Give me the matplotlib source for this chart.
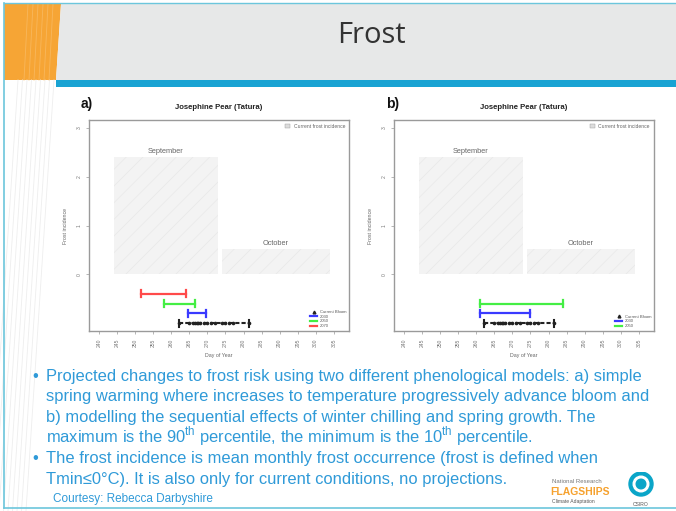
import matplotlib
matplotlib.use("Agg")
import matplotlib.pyplot as plt
from matplotlib.patches import Polygon, Rectangle, Circle
from matplotlib.lines import Line2D

plt.rcParams['font.family'] = ['Liberation Sans', 'DejaVu Sans']
plt.rcParams['mathtext.fontset'] = 'custom'
plt.rcParams['mathtext.rm'] = 'Liberation Sans'
plt.rcParams['hatch.linewidth'] = 0.4

# ---------------- data ----------------
months = ["September", "October"]
month_start = [244, 274]
month_end = [273, 304]
frost_incidence = [2.4, 0.52]

x_ticks = [240, 245, 250, 255, 260, 265, 270, 275, 280, 285, 290, 295, 300, 305]
y_ticks = [0, 1, 2, 3]

bloom_years = [262, 265, 266, 266.5, 267, 267.5, 268, 269, 270, 271, 272,
               274, 275, 276, 277, 281.5]
bloom_min, bloom_max = 262, 281.5

horizons_a = ["2030", "2050", "2070"]
lo_a = [264.5, 258.0, 251.5]
hi_a = [269.5, 266.5, 264.0]

horizons_b = ["2030", "2050"]
lo_b = [261.0, 261.0]
hi_b = [275.0, 284.0]

range_y = {"2030": -0.8, "2050": -0.6, "2070": -0.4}
range_col = {"2030": "#3a3aff", "2050": "#44ee44", "2070": "#ff4a4a"}

W, H = 676, 511
fig = plt.figure(figsize=(W / 100, H / 100), dpi=100)
fig.patch.set_facecolor("white")

def fx(x):
    return x / W

def fy(y):
    return 1 - y / H

def fpoly(pts, **kw):
    p = Polygon([(fx(a), fy(b)) for a, b in pts], closed=True,
                transform=fig.transFigure, **kw)
    fig.patches.append(p)

# ---------------- slide decoration ----------------
for i in range(9):
    xt = 18 + i * 4.5
    fig.add_artist(Line2D([fx(xt), fx(xt - 28)], [fy(80), fy(511)],
                          transform=fig.transFigure, color="#eeeeee", lw=0.6))
fpoly([(4, 4), (61, 4), (56, 80), (4, 80)], facecolor="#f6a535", edgecolor="none")
for i in range(6):
    xt = 28 + i * 5
    fig.add_artist(Line2D([fx(xt), fx(xt - 4)], [fy(4), fy(80)],
                          transform=fig.transFigure, color="#f8b75c", lw=0.6))
fpoly([(61, 4), (676, 4), (676, 80), (56, 80)], facecolor="#e7e8e8", edgecolor="none")
fpoly([(56, 80), (676, 80), (676, 87), (56, 87)], facecolor="#19a3d3", edgecolor="none")
fig.add_artist(Line2D([fx(4), fx(4)], [fy(3), fy(508)], transform=fig.transFigure,
                      color="#6cc6dc", lw=1.2))
fig.add_artist(Line2D([fx(4), fx(676)], [fy(3), fy(3)], transform=fig.transFigure,
                      color="#6cc6dc", lw=1.0))
fig.add_artist(Line2D([fx(4), fx(676)], [fy(508), fy(508)], transform=fig.transFigure,
                      color="#6cc6dc", lw=1.2))

fig.text(fx(371), fy(35), "Frost", fontsize=21, color="#333333",
         ha="center", va="center", family=["Open Sans", "DejaVu Sans"])

# ---------------- charts ----------------
def make_panel(left, label, horizons, lo, hi):
    ax = fig.add_axes([fx(left), fy(331), fx(260), (331 - 120) / H])
    ax.set_xlim(237.2, 309.2)
    ax.set_ylim(-1.16, 3.16)
    for s, e, v, m in zip(month_start, month_end, frost_incidence, months):
        ax.bar(s, v, width=e - s, align="edge", facecolor="#f3f3f3",
               edgecolor="#e6e6e6", linewidth=0, hatch="//")
        ax.text((s + e) / 2, v + 0.04, m, ha="center", va="bottom",
                fontsize=5.3, color="#666666")
    # current bloom
    ax.plot([bloom_min, bloom_max], [-1, -1], color="#222222", lw=1.5,
            ls=(0, (2, 1)))
    ax.plot([bloom_min, bloom_min], [-1.07, -0.93], color="#222222", lw=1.5)
    ax.plot([bloom_max, bloom_max], [-1.07, -0.93], color="#222222", lw=1.5)
    ax.plot(bloom_years, [-1] * len(bloom_years), "o", ms=1.6, color="#222222")
    handles = [Line2D([], [], marker="^", ms=2, color="#222222", ls="none")]
    labels = ["Current Bloom"]
    for h, l0, h0 in zip(horizons, lo, hi):
        yv = range_y[h]
        c = range_col[h]
        ax.plot([l0, h0], [yv, yv], color=c, lw=1.6)
        ax.plot([l0, l0], [yv - 0.07, yv + 0.07], color=c, lw=1.6)
        ax.plot([h0, h0], [yv - 0.07, yv + 0.07], color=c, lw=1.6)
        handles.append(Line2D([], [], color=c, lw=1.6))
        labels.append(h)
    leg = ax.legend(handles, labels, loc="lower right", frameon=False,
                    fontsize=3, handlelength=1.6, labelspacing=0.15,
                    handletextpad=0.6, borderaxespad=0.3, labelcolor="#555555")
    ax.add_artist(leg)
    ax.legend([Rectangle((0, 0), 1, 1, facecolor="#dddddd", edgecolor="#999999",
                         lw=0.3)],
              ["Current frost incidence"], loc="upper right", frameon=False,
              fontsize=3.6, handlelength=1.0, handleheight=0.8,
              borderaxespad=0.4, labelcolor="#666666")
    ax.set_xticks(x_ticks)
    ax.set_xticklabels([str(t) for t in x_ticks], rotation=90, fontsize=3.6,
                       color="#777777")
    ax.set_yticks(y_ticks)
    ax.set_yticklabels([str(t) for t in y_ticks], rotation=90, fontsize=3.6,
                       color="#777777", va="center")
    ax.tick_params(length=2.5, width=0.5, color="#999999", pad=3)
    for sp in ax.spines.values():
        sp.set_color("#9a9a9a")
        sp.set_linewidth(1.0)
    ax.set_title("Josephine Pear (Tatura)", fontsize=5.6, fontweight="bold",
                 color="#222222", pad=8)
    ax.set_xlabel("Day of Year", fontsize=3.8, color="#666666", labelpad=4)
    ax.set_ylabel("Frost incidence", fontsize=3.8, color="#666666", labelpad=6)
    fig.text(fx(left - 8), fy(104), label, fontsize=10, fontweight="bold",
             color="#111111", va="center")
    return ax

make_panel(89, "a)", horizons_a, lo_a, hi_a)
make_panel(394, "b)", horizons_b, lo_b, hi_b)

# ---------------- bullet text ----------------
blue = "#2f9ad8"
fs = 11.9
lines1 = [
    "Projected changes to frost risk using two different phenological models: a) simple",
    "spring warming where increases to temperature progressively advance bloom and",
    "b) modelling the sequential effects of winter chilling and spring growth. The",
    "maximum is the 90$^{\\mathrm{th}}$ percentile, the minimum is the 10$^{\\mathrm{th}}$ percentile.",
]
lines2 = [
    "The frost incidence is mean monthly frost occurrence (frost is defined when",
    "Tmin\u22640\u00b0C). It is also only for current conditions, no projections.",
]
b0 = 381
for i, t in enumerate(lines1):
    fig.text(fx(46), fy(b0 + i * 20.3), t, fontsize=fs, color=blue, va="baseline")
fig.text(fx(32), fy(b0), "\u2022", fontsize=fs, color=blue, va="baseline")
b1 = 463
for i, t in enumerate(lines2):
    fig.text(fx(46), fy(b1 + i * 21), t, fontsize=fs, color=blue, va="baseline")
fig.text(fx(32), fy(b1), "\u2022", fontsize=fs, color=blue, va="baseline")
fig.text(fx(53), fy(499), "Courtesy: Rebecca Darbyshire", fontsize=8.5, color=blue,
         va="center")

# ---------------- logos ----------------
fig.text(fx(552), fy(481), "National Research", fontsize=4.3, color="#777777",
         va="center")
fig.text(fx(550), fy(492), "FLAGSHIPS", fontsize=7.5, color="#f6a12d",
         fontweight="bold", va="center")
fig.text(fx(552), fy(502), "Climate Adaptation", fontsize=3.6, color="#555555",
         va="center")
ax_logo = fig.add_axes([fx(626), fy(502), fx(30), 30 / H])
ax_logo.set_xlim(0, 1)
ax_logo.set_ylim(0, 1)
ax_logo.set_aspect("equal")
ax_logo.axis("off")
ax_logo.add_patch(Circle((0.5, 0.6), 0.4, color="#0aa5c8"))
ax_logo.add_patch(Circle((0.5, 0.6), 0.26, color="white"))
ax_logo.add_patch(Circle((0.5, 0.6), 0.16, color="#0aa5c8"))
fig.text(fx(641), fy(504), "CSIRO", fontsize=3.6, color="#555555", ha="center",
         va="center")

fig.savefig("out.png", dpi=100)
